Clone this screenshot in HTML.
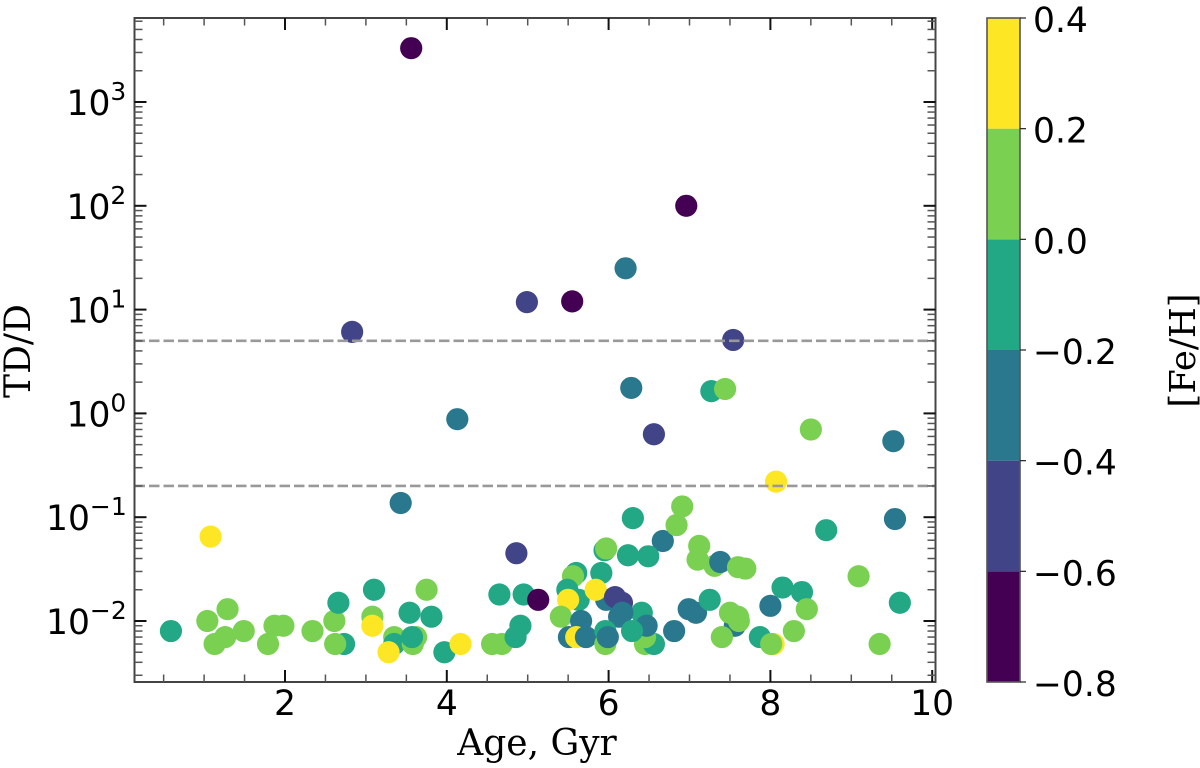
<!DOCTYPE html>
<html>
<head>
<meta charset="utf-8">
<title>TD/D vs Age</title>
<style>
html,body{margin:0;padding:0;background:#fff;width:1200px;height:768px;overflow:hidden}
svg{display:block}
.tick{font-family:"DejaVu Sans","Liberation Sans",sans-serif;font-size:34.5px;fill:#000}
.label{font-family:"DejaVu Serif","Liberation Serif",serif;font-size:36px;fill:#000}
</style>
</head>
<body>
<svg id="chart" width="1200" height="768" viewBox="0 0 1200 768" xmlns="http://www.w3.org/2000/svg">
  <g id="marks"></g>
  <g id="thresholds"></g>
  <rect x="134.5" y="18" width="801" height="664" fill="none" stroke="#444" stroke-width="2"/>
  <g id="xticks"></g>
  <g id="yticks"></g>
  <text class="label" x="537" y="755" text-anchor="middle">Age, Gyr</text>
  <text class="label" transform="translate(30,351) rotate(-90)" text-anchor="middle">TD/D</text>
  <g id="colorbar"></g>
  <text class="label" transform="translate(1195,350.5) rotate(-90)" text-anchor="middle" style="font-size:35.5px">[Fe/H]</text>
</svg>
<script>
// Series values, in draw order
const ages = [0.59,1.08,1.04,1.29,1.13,1.26,1.49,1.79,1.87,1.98,2.34,2.61,2.73,2.62,2.66,3.10,3.08,3.08,3.35,3.35,3.28,3.54,3.81,3.75,3.58,3.62,3.57,3.97,4.17,4.56,4.68,4.65,4.95,4.86,5.13,4.85,4.91,3.43,
6.30,6.91,6.67,6.84,8.69,9.54,7.12,7.10,7.31,7.38,7.60,7.69,5.95,5.97,6.24,6.49,5.91,5.60,5.56,5.49,5.63,5.50,5.41,5.66,5.51,5.60,5.72,5.97,5.84,6.165,6.08,6.13,6.41,6.17,5.96,5.96,5.99,6.45,6.56,6.45,6.47,6.29,6.81,6.99,7.08,7.25,7.56,7.50,7.61,7.60,7.40,7.87,8.04,8.01,8.39,8.15,8.00,8.45,8.29,9.09,9.60,9.35,
3.56,6.96,6.21,4.99,5.55,2.83,7.54,6.28,7.27,7.44,4.13,6.56,8.50,9.52,8.07];
const ratios = [0.008,0.065,0.010,0.013,0.006,0.007,0.008,0.006,0.009,0.009,0.008,0.010,0.006,0.006,0.015,0.020,0.011,0.009,0.007,0.006,0.005,0.012,0.011,0.020,0.006,0.007,0.007,0.005,0.006,0.006,0.006,0.018,0.018,0.045,0.016,0.007,0.009,0.137,
0.098,0.127,0.059,0.084,0.075,0.096,0.053,0.039,0.034,0.037,0.033,0.032,0.048,0.050,0.043,0.042,0.029,0.029,0.027,0.020,0.016,0.016,0.011,0.010,0.007,0.007,0.007,0.016,0.020,0.015,0.017,0.011,0.012,0.012,0.006,0.008,0.007,0.006,0.006,0.007,0.009,0.008,0.008,0.013,0.012,0.016,0.009,0.012,0.010,0.011,0.007,0.007,0.006,0.006,0.019,0.021,0.014,0.013,0.008,0.027,0.015,0.006,
3300,100,25,11.8,12,6.1,5.1,1.76,1.64,1.72,0.88,0.63,0.70,0.54,0.22];
const metallicity = [-0.1,0.3,0.1,0.1,0.1,0.1,0.1,0.1,0.1,0.1,0.1,0.1,-0.1,0.1,-0.1,-0.1,0.1,0.3,0.1,-0.1,0.3,-0.1,-0.1,0.1,0.1,0.1,-0.1,-0.1,0.3,0.1,0.1,-0.1,-0.1,-0.5,-0.7,-0.1,-0.1,-0.3,
-0.1,0.1,-0.3,0.1,-0.1,-0.3,0.1,0.1,0.1,-0.3,0.1,0.1,-0.1,0.1,-0.1,-0.1,-0.1,-0.1,0.1,-0.1,-0.1,0.3,0.1,-0.3,-0.3,0.3,-0.3,-0.3,0.3,-0.5,-0.5,-0.3,-0.1,-0.3,0.1,-0.1,-0.3,0.1,-0.1,0.1,-0.3,-0.1,-0.3,-0.3,-0.3,-0.1,-0.3,0.1,0.1,0.1,0.1,-0.1,0.3,0.1,-0.1,-0.1,-0.3,0.1,0.1,0.1,-0.1,0.1,
-0.7,-0.7,-0.3,-0.5,-0.7,-0.5,-0.5,-0.3,-0.1,0.1,-0.3,-0.5,0.1,-0.3,0.3];
// Axis ticks
const xMajorTicks = [2,4,6,8,10];
const xMinorTicks = [0.5,1,1.5,2.5,3,3.5,4.5,5,5.5,6.5,7,7.5,8.5,9,9.5];
const yDecades = [-2,-1,0,1,2,3];
const yMinorDecades = [-3,-2,-1,0,1,2,3];
const yMinorMultiples = [2,3,4,5,6,7,8,9];
const thresholdValues = [5,0.2];
// Colorbar
const cbarEdges = [-0.8,-0.6,-0.4,-0.2,0.0,0.2,0.4];
const cbarColors = ["#440154","#414487","#2a788e","#22a884","#7ad151","#fde725"];

const NS = "http://www.w3.org/2000/svg";
const plotLeft = 134.5, plotRight = 935.5, plotTop = 18, plotBottom = 682;
const xScale = v => 285 + (v - 2) * 80.9;
const yScale = v => 621 - (Math.log10(v) + 2) * 103.8;
const cScale = v => 682 - (v + 0.8) / 1.2 * 664;
const colorFor = v => {
  for (let i = 0; i < cbarColors.length; i++) { if (v < cbarEdges[i + 1]) return cbarColors[i]; }
  return cbarColors[cbarColors.length - 1];
};
function mk(tag, attrs, parent) {
  const el = document.createElementNS(NS, tag);
  for (const k in attrs) el.setAttribute(k, attrs[k]);
  parent.appendChild(el);
  return el;
}
const marks = document.getElementById("marks");
ages.forEach((a, i) => {
  const c = mk("circle", {cx: xScale(a), cy: yScale(ratios[i]), r: 11.1, fill: colorFor(metallicity[i])}, marks);
  
  
});
const thresholds = document.getElementById("thresholds");
thresholdValues.forEach(v => {
  const l = mk("line", {x1: plotLeft, x2: plotRight, y1: yScale(v), y2: yScale(v), stroke: "#999", "stroke-width": 2.6, "stroke-dasharray": "10.5 4"}, thresholds);
  
  
});
const xt = document.getElementById("xticks");
xMinorTicks.forEach(v => {
  const x = xScale(v);
  [[plotBottom, plotBottom - 7.5], [plotTop, plotTop + 7.5]].forEach(p => {
    const t = mk("line", {x1: x, x2: x, y1: p[0], y2: p[1], stroke: "#555", "stroke-width": 1.5}, xt);
    
    
  });
});
xMajorTicks.forEach(v => {
  const x = xScale(v);
  [[plotBottom, plotBottom - 12], [plotTop, plotTop + 12]].forEach(p => {
    const t = mk("line", {x1: x, x2: x, y1: p[0], y2: p[1], stroke: "#111", "stroke-width": 2}, xt);
    
    
  });
  const lab = mk("text", {x: x, y: 715, "text-anchor": "middle", class: "tick"}, xt);
  lab.textContent = v;
  
  
});
const yt = document.getElementById("yticks");
yMinorDecades.forEach(d => {
  yMinorMultiples.forEach(m => {
    const v = m * Math.pow(10, d);
    const y = yScale(v);
    if (y < plotTop || y > plotBottom) return;
    [[plotLeft, plotLeft + 8], [plotRight, plotRight - 8]].forEach(p => {
      const t = mk("line", {x1: p[0], x2: p[1], y1: y, y2: y, stroke: "#555", "stroke-width": 1.5}, yt);
      
      
    });
  });
});
yDecades.forEach(d => {
  const y = yScale(Math.pow(10, d));
  [[plotLeft, plotLeft + 12], [plotRight, plotRight - 12]].forEach(p => {
    const t = mk("line", {x1: p[0], x2: p[1], y1: y, y2: y, stroke: "#111", "stroke-width": 2}, yt);
    
    
  });
  const lab = mk("text", {x: d < 0 ? 46 : 66.5, y: y + 13, class: "tick"}, yt);
  
  
  const base = mk("tspan", {}, lab);
  base.textContent = "10";
  const exp = mk("tspan", {dy: -15, "font-size": 25}, lab);
  exp.textContent = String(d).replace("-", "\u2212");
});
const cb = document.getElementById("colorbar");
cbarColors.forEach((col, i) => {
  const y1 = cScale(cbarEdges[i + 1]), y2 = cScale(cbarEdges[i]);
  const r = mk("rect", {x: 987, y: y1, width: 33, height: y2 - y1, fill: col}, cb);
  
  
});
const cbFrame = mk("rect", {x: 987, y: 18, width: 33, height: 664, fill: "none", stroke: "#555", "stroke-width": 1.6}, cb);


cbarEdges.forEach(v => {
  const y = cScale(v);
  const t = mk("line", {x1: 1020, x2: 1026, y1: y, y2: y, stroke: "#222", "stroke-width": 1.2}, cb);
  
  
  const lab = mk("text", {x: 1033, y: y + 14, class: "tick"}, cb);
  lab.textContent = (v < 0 ? "\u2212" : "") + Math.abs(v).toFixed(1);
  
  
});
</script>
</body>
</html>
